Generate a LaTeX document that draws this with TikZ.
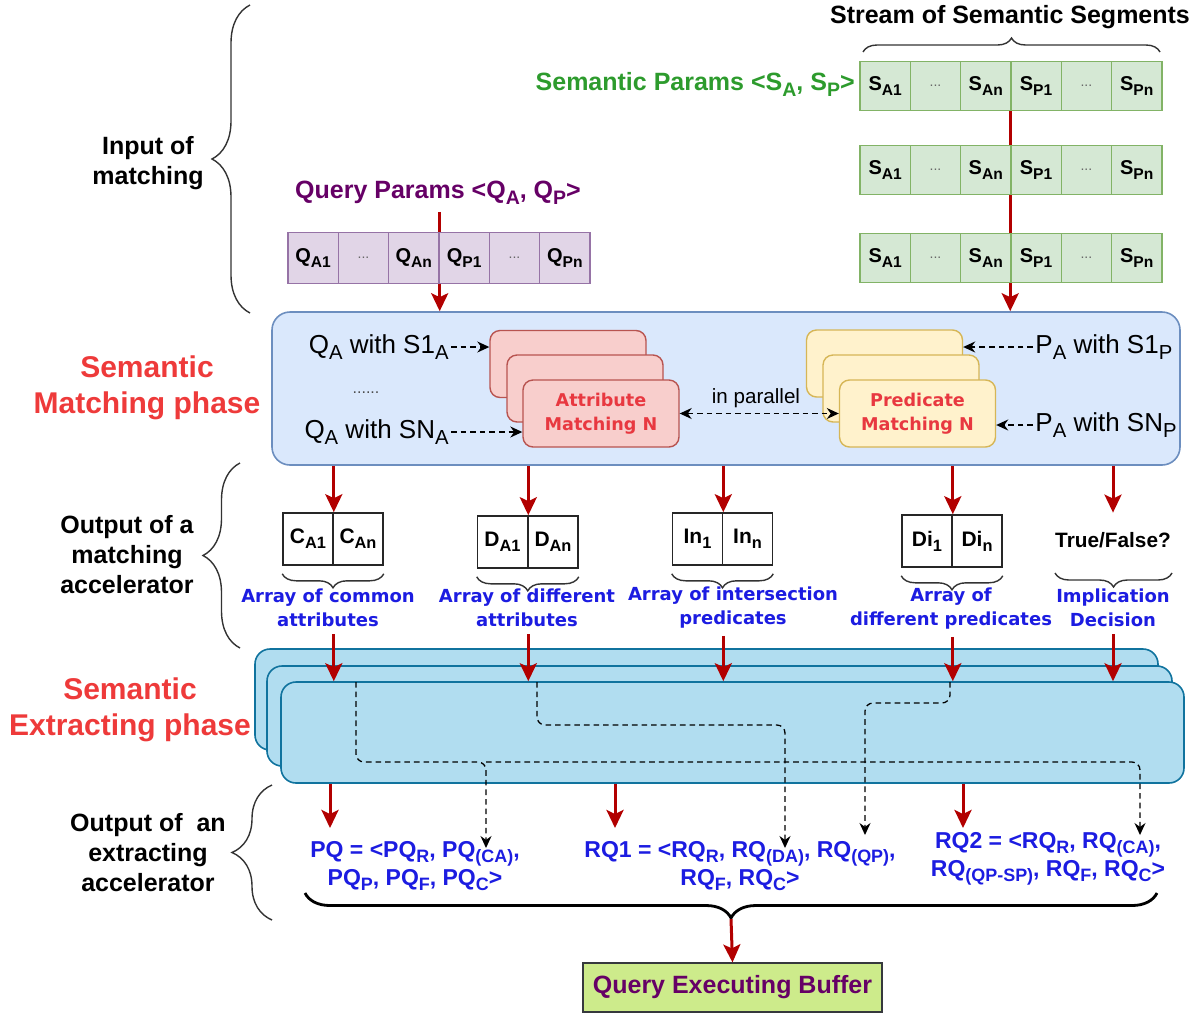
\documentclass[tikz,border=0pt]{standalone}
\usepackage{fontspec}
\setmainfont{Liberation Sans}
\newfontfamily\dvs{DejaVu Sans}
\usetikzlibrary{arrows.meta,decorations.pathreplacing,calc}
\definecolor{arrred}{RGB}{178,0,0}
\definecolor{cellgreenf}{RGB}{213,232,212}
\definecolor{cellgreend}{RGB}{130,179,102}
\definecolor{paramgreen}{RGB}{45,155,45}
\definecolor{cellpurf}{RGB}{225,213,231}
\definecolor{cellpurd}{RGB}{150,115,166}
\definecolor{qpurple}{RGB}{102,0,102}
\definecolor{mboxf}{RGB}{218,232,252}
\definecolor{mboxd}{RGB}{108,142,191}
\definecolor{attf}{RGB}{248,206,204}
\definecolor{attd}{RGB}{184,84,80}
\definecolor{atttext}{RGB}{232,56,64}
\definecolor{predf}{RGB}{255,242,204}
\definecolor{predd}{RGB}{214,182,86}
\definecolor{phasered}{RGB}{238,58,58}
\definecolor{labblue}{RGB}{28,28,225}
\definecolor{exf}{RGB}{177,221,240}
\definecolor{exd}{RGB}{16,115,158}
\definecolor{bufff}{RGB}{205,235,139}
\definecolor{buffd}{RGB}{54,57,61}
\newcommand\sbs[1]{\raisebox{-0.45ex}{\scalebox{0.78}{#1}}}
\newcommand\setfs[2]{\fontsize{#1}{#2}\selectfont}
\newcommand\celldots{{\color{black!60}\mdseries\setfs{7}{8}...}}
\tikzset{
  >={Stealth[length=6pt,width=5.5pt]},
  cellS/.style={draw=cellgreend, fill=cellgreenf, line width=0.7pt, minimum width=25.15pt, minimum height=24.5pt, inner sep=0pt, font=\setfs{10}{12}\bfseries},
  cellQ/.style={cellS, draw=cellpurd, fill=cellpurf, minimum width=25.17pt, minimum height=25.5pt},
  redline/.style={draw=arrred, line width=1.5pt},
  redarr/.style={redline, -{Stealth[length=9pt,width=8.5pt,inset=2pt]}},
  dasharr/.style={draw=black, line width=0.65pt, dash pattern=on 2.8pt off 2pt, ->},
  dline/.style={dasharr, rounded corners=4pt},
  mboxst/.style={draw=mboxd, fill=mboxf, line width=0.8pt, rounded corners=9pt},
  attbox/.style={draw=attd, fill=attf, line width=0.7pt, rounded corners=5pt, minimum width=78pt, minimum height=33.5pt, align=center, text=atttext, font=\dvs\bfseries\setfs{8.8}{12}},
  predbox/.style={attbox, draw=predd, fill=predf},
  plainlab/.style={font=\setfs{13}{15}, inner sep=1pt},
  arrcell/.style={draw=black!85, line width=0.8pt, minimum width=25pt, minimum height=26pt, inner sep=0pt, font=\setfs{10.5}{12}\bfseries},
  brc/.style={draw=black!80, line width=0.7pt, decorate, decoration={brace, amplitude=7pt, mirror}},
  bigbrace/.style={draw=black, line width=1.4pt, decorate, decoration={brace, amplitude=12.5pt, mirror}},
  lbrace/.style={draw=black!80, line width=0.7pt, decorate, decoration={brace, amplitude=#1}},
  bluelab/.style={text=labblue, align=center, font=\dvs\bfseries\setfs{9}{12}},
  outlab/.style={text=labblue, align=center, font=\setfs{11.5}{14}\bfseries},
  sidelab/.style={align=center, font=\setfs{12.5}{15}\bfseries},
  phaselab/.style={align=center, text=phasered, font=\setfs{15}{18}\bfseries},
  exbox/.style={draw=exd, fill=exf, line width=0.8pt, rounded corners=7.5pt},
  qebox/.style={draw=buffd, fill=bufff, line width=0.6pt, minimum width=149.5pt, minimum height=24.5pt, text=qpurple, font=\setfs{12.5}{15}\bfseries},
}
\begin{document}
\begin{tikzpicture}[x=0.5pt,y=-0.5pt]
\useasboundingbox (0,0) rectangle (1204,1013);

% ---------- stream of semantic segments ----------
\node[font=\setfs{12.5}{15}\bfseries] (stream) at (1010,17) {Stream of Semantic Segments};
\draw[lbrace=7pt] (863,52) -- (1160,52);
\node[font=\setfs{12.5}{15}\bfseries, text=paramgreen, anchor=east, inner sep=1pt] (sparams) at (857,84) {Semantic Params <S\sbs{A}, S\sbs{P}>};
\foreach \r/\y in {1/86,2/170,3/258} {
  \foreach \i/\t in {1/{S\sbs{A1}},2/{\celldots},3/{S\sbs{An}},4/{S\sbs{P1}},5/{\celldots},6/{S\sbs{Pn}}} {
    \node[cellS] (s\r-\i) at ({885.15+(\i-1)*50.3},\y) {\t};
  }
}

% ---------- query params ----------
\node[font=\setfs{12.5}{15}\bfseries, text=qpurple] (qparams) at (438,193) {Query Params <Q\sbs{A}, Q\sbs{P}>};
\foreach \i/\t in {1/{Q\sbs{A1}},2/{\celldots},3/{Q\sbs{An}},4/{Q\sbs{P1}},5/{\celldots},6/{Q\sbs{Pn}}} {
  \node[cellQ] (q-\i) at ({313.17+(\i-1)*50.33},258) {\t};
}

% ---------- matching box ----------
\node[mboxst, minimum width=454pt, minimum height=76.5pt] (mbox) at (726,388.5) {};
\draw[redline] (s1-4.south west) -- (s2-4.north west);
\draw[redline] (s2-4.south west) -- (s3-4.north west);
\draw[redarr] (s3-4.south west) -- (s3-4.south west |- mbox.north);
\draw[redline] (qparams.south -| q-3.north east) -- (q-3.north east);
\draw[redarr] (q-3.south east) -- (q-3.south east |- mbox.north);

\node[attbox] (am1) at (568,364) {};
\node[attbox] (am2) at (585,388.5) {};
\node[attbox] (am3) at (601,413.5) {Attribute\\Matching N};
\node[predbox] (pm1) at (884.5,363.5) {};
\node[predbox] (pm2) at (901,388.5) {};
\node[predbox] (pm3) at (917.5,413.5) {Predicate\\Matching N};

\node[plainlab, anchor=east] (qa1) at (451,347) {Q\sbs{A} with S1\sbs{A}};
\node[plainlab, anchor=east] (qan) at (451,432) {Q\sbs{A} with SN\sbs{A}};
\node[font=\setfs{8}{9}, text=black!70] (qdots) at (366,393) {......};
\node[plainlab, anchor=west] (pa1) at (1033,347) {P\sbs{A} with S1\sbs{P}};
\node[plainlab, anchor=west] (pan) at (1033,425) {P\sbs{A} with SN\sbs{P}};
\node[font=\setfs{10.3}{12}] (par) at (756,398) {in parallel};
\draw[dasharr] (qa1.east) -- (qa1.east -| am1.west);
\draw[dasharr] (qan.east) -- (qan.east -| am3.west);
\draw[dasharr] (pa1.west) -- (pa1.west -| pm1.east);
\draw[dasharr] (pan.west) -- (pan.west -| pm3.east);
\draw[dasharr, <->] (am3.east) -- (pm3.west);

% ---------- output of matching accelerator ----------
\node[arrcell] (ca1) at (308,539) {C\sbs{A1}};
\node[arrcell] (ca2) at (358,539) {C\sbs{An}};
\node[arrcell] (da1) at (502.5,542) {D\sbs{A1}};
\node[arrcell] (da2) at (553,542) {D\sbs{An}};
\node[arrcell] (in1) at (697.5,539) {In\sbs{1}};
\node[arrcell] (in2) at (747.5,539) {In\sbs{n}};
\node[arrcell] (di1) at (927,541) {Di\sbs{1}};
\node[arrcell] (di2) at (977,541) {Di\sbs{n}};
\node[font=\setfs{10.4}{12}\bfseries, minimum height=27pt, inner sep=0pt] (tf) at (1113,540) {True/False?};

\draw[redarr] (ca1.north east |- mbox.south) -- (ca1.north east);
\draw[redarr] (da1.north east |- mbox.south) -- (da1.north east);
\draw[redarr] (in1.north east |- mbox.south) -- (in1.north east);
\draw[redarr] (di1.north east |- mbox.south) -- (di1.north east);
\draw[redarr] (tf.north |- mbox.south) -- (tf.north);

\draw[brc] ([yshift=-4pt]ca1.south west) -- ([yshift=-4pt]ca2.south east);
\draw[brc] ([yshift=-4pt]da1.south west) -- ([yshift=-4pt]da2.south east);
\draw[brc] ([yshift=-4pt]in1.south west) -- ([yshift=-4pt]in2.south east);
\draw[brc] ([yshift=-4pt]di1.south west) -- ([yshift=-4pt]di2.south east);
\draw[brc] (1055,573) -- (1172,573);

\node[bluelab] (labc) at (328,608) {Array of common\\attributes};
\node[bluelab] (labd) at (527,608) {Array of different\\attributes};
\node[bluelab] (labi) at (733,608) {Array of intersection\\predicates};
\node[bluelab] (labp) at (951,609) {Array of\\different predicates};
\node[bluelab] (labm) at (1113,608) {Implication\\Decision};

% ---------- extracting phase ----------
\node[exbox, minimum width=451.5pt, minimum height=50.5pt] (ex1) at (706.5,699.5) {};
\node[exbox, minimum width=452.5pt, minimum height=50pt] (ex2) at (719.5,716) {};
\node[exbox, minimum width=451.5pt, minimum height=50.5pt] (ex3) at (732.5,732.5) {};

\draw[redarr] (ca1.south east |- labc.south) -- (ca1.south east |- ex3.north);
\draw[redarr] (da1.south east |- labd.south) -- (da1.south east |- ex3.north);
\draw[redarr] (in1.south east |- labi.south) -- (in1.south east |- ex3.north);
\draw[redarr] (di1.south east |- labp.south) -- (di1.south east |- ex3.north);
\draw[redarr] (tf.south |- labm.south) -- (tf.south |- ex3.north);

\coordinate (caout) at (356,682);
\coordinate (daout) at (537,682);
\coordinate (dpout) at (950,682);
\coordinate (pqca) at (486,848);
\coordinate (rq2ca) at (1140,835);
\coordinate (rq1da) at (785,848);
\coordinate (rq1qp) at (865,835);
\draw[dline] (caout) -- (356,762) -- (486,762) -- (pqca);
\draw[dline] (486,762) -- (1140,762) -- (rq2ca);
\draw[dline] (daout) -- (537,725) -- (785,725) -- (rq1da);
\draw[dline] (dpout) -- (950,703) -- (865,703) -- (rq1qp);

% ---------- outputs ----------
\node[outlab] (pq) at (415,866) {PQ = <PQ\sbs{R}, PQ\sbs{(CA)},\\PQ\sbs{P}, PQ\sbs{F}, PQ\sbs{C}>};
\node[outlab] (rq1) at (740,866) {RQ1 = <RQ\sbs{R}, RQ\sbs{(DA)}, RQ\sbs{(QP)},\\RQ\sbs{F}, RQ\sbs{C}>};
\node[outlab] (rq2) at (1048,859) {RQ2 = <RQ\sbs{R}, RQ\sbs{(CA)},\\RQ\sbs{(QP-SP)}, RQ\sbs{F}, RQ\sbs{C}>};
\coordinate (pqin) at (330,828);
\coordinate (rq1in) at (615,828);
\coordinate (rq2in) at (963,828);
\draw[redarr] (ex3.south -| pqin) -- (pqin);
\draw[redarr] (ex3.south -| rq1in) -- (rq1in);
\draw[redarr] (ex3.south -| rq2in) -- (rq2in);

\coordinate (bbl) at (305,893);
\coordinate (bbr) at (1157,893);
\draw[bigbrace] (bbl) -- (bbr);
\coordinate (btip) at (731,919);
\node[qebox] (qeb) at (732.5,987.5) {Query Executing Buffer};
\draw[redarr] (btip) -- (qeb.north);

% ---------- left side ----------
\draw[lbrace=19pt] (250,313) -- (250,5);
\node[sidelab] (lin) at (148,163) {Input of\\matching};
\node[phaselab] (lmp) at (147,388) {Semantic\\Matching phase};
\draw[lbrace=18.5pt] (240,648) -- (240,463);
\node[sidelab] (lom) at (127,555) {Output of a\\matching\\accelerator};
\node[phaselab] (lep) at (130,710) {Semantic\\Extracting phase};
\draw[lbrace=20pt] (272,920) -- (272,785);
\node[sidelab] (loe) at (148,853) {Output of\ \ an\\extracting\\accelerator};
\end{tikzpicture}
\end{document}
